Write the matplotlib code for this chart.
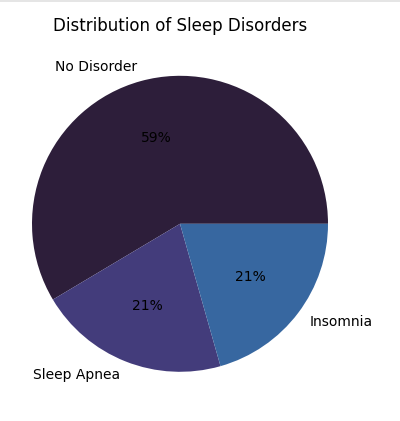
import matplotlib.pyplot as plt
from matplotlib.lines import Line2D

# Datos
labels = ['No Disorder', 'Sleep Apnea', 'Insomnia']
counts = [219, 78, 77]
colors = ['#2d1e3a', '#433c7b', '#3767a0']

fig = plt.figure(figsize=(4.0, 4.21), dpi=100)
ax = fig.add_axes([2.4/400, 19.6/421, 355.2/400, 355.2/421])

ax.pie(counts, labels=labels, colors=colors, autopct='%1.0f%%',
       textprops={'fontsize': 10})
ax.set_xlim(-1.2, 1.2)
ax.set_ylim(-1.2, 1.2)
ax.set_aspect('equal')

fig.text(180/400, 1 - 26/421, 'Distribution of Sleep Disorders',
         ha='center', va='center', fontsize=12)

# linea gris arriba
fig.add_artist(Line2D([0, 1], [1 - 0.8/421, 1 - 0.8/421],
                      color='#e0e0e0', lw=1.2, transform=fig.transFigure))

fig.savefig('out.png', dpi=100)
